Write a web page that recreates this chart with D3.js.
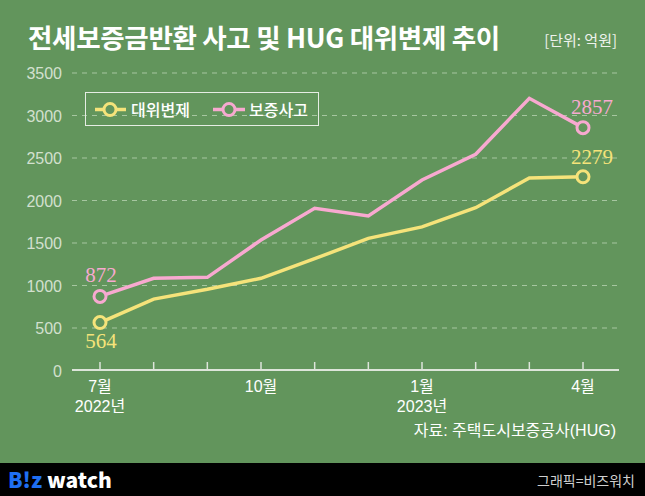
<!DOCTYPE html>
<html><head><meta charset="utf-8">
<script src="https://cdn.jsdelivr.net/npm/d3@7"></script>
<style>
html,body{margin:0;padding:0;background:#62955c;}
svg{display:block;}
</style></head>
<body>
<svg id="c" width="645" height="496"></svg>
<script>
const months = ["2022-07","2022-08","2022-09","2022-10","2022-11","2022-12","2023-01","2023-02","2023-03","2023-04"];
const monthLabels = ["7월","","","10월","","","1월","","","4월"];
const yearLabels = ["2022년","","","","","","2023년","","",""];
const subrogation = [564, 840, 955, 1085, 1315, 1555, 1690, 1915, 2265, 2279]; // 대위변제
const accidents = [872, 1085, 1096, 1535, 1908, 1818, 2241, 2544, 3202, 2857]; // 보증사고
const yTicks = [0, 500, 1000, 1500, 2000, 2500, 3000, 3500];
const seriesNames = ["대위변제", "보증사고"];
const colors = ["#f5e37a", "#f8a9d0"];

const bg = "#62955c";
const svg = d3.select("#c");
svg.append("rect").attr("width",645).attr("height",496).attr("fill",bg);

const x = d3.scalePoint().domain(months).range([100, 583]);
const y = d3.scaleLinear().domain([0, 3500]).range([370.5, 73]);

// title
svg.append("text").attr("x", 28).attr("y", 48)
  .attr("font-family", "'Noto Sans CJK KR'").attr("font-weight", 700)
  .attr("font-size", 26.5).attr("letter-spacing", -0.3).attr("fill", "#fff")
  .text("전세보증금반환 사고 및 HUG 대위변제 추이");
svg.append("text").attr("x", 617).attr("y", 46).attr("text-anchor","end")
  .attr("font-family", "'Noto Sans CJK KR'").attr("font-size", 15)
  .attr("fill", "#eef2ec").text("[단위: 억원]");

// grid + y labels
const g = svg.append("g");
yTicks.forEach(t => {
  if (t > 0) {
    g.append("line").attr("x1", 72).attr("x2", 617)
      .attr("y1", y(t)).attr("y2", y(t))
      .attr("stroke", "#a6c6a0").attr("stroke-width", 1).attr("stroke-dasharray", "5,5");
  }
  g.append("text").attr("x", 62).attr("y", y(t) + 6).attr("text-anchor", "end")
    .attr("font-family", "'Liberation Sans', Arial, sans-serif").attr("font-size", 16)
    .attr("fill", "#d3e0cf").text(t);
});

// x axis
g.append("line").attr("x1", 72).attr("x2", 619).attr("y1", 370).attr("y2", 370)
  .attr("stroke", "#dde5da").attr("stroke-width", 2);
months.forEach((m, i) => {
  g.append("line").attr("x1", x(m)).attr("x2", x(m)).attr("y1", 362).attr("y2", 370)
    .attr("stroke", "#dde5da").attr("stroke-width", 1.5);
  if (monthLabels[i]) g.append("text").attr("x", x(m)).attr("y", 392).attr("text-anchor","middle")
    .attr("font-family", "'Liberation Sans', 'Noto Sans CJK KR', sans-serif").attr("font-size", 16)
    .attr("fill", "#fff").text(monthLabels[i]);
  if (yearLabels[i]) g.append("text").attr("x", x(m)).attr("y", 412).attr("text-anchor","middle")
    .attr("font-family", "'Liberation Sans', 'Noto Sans CJK KR', sans-serif").attr("font-size", 16)
    .attr("fill", "#fff").text(yearLabels[i]);
});

svg.append("text").attr("x", 616).attr("y", 436).attr("text-anchor","end")
  .attr("font-family", "'Liberation Sans', 'Noto Sans CJK KR', sans-serif").attr("font-size", 16)
  .attr("fill", "#fff").text("자료: 주택도시보증공사(HUG)");

// lines
const line = d3.line().x((d, i) => x(months[i])).y(d => y(d));
[subrogation, accidents].forEach((data, k) => {
  svg.append("path").datum(data).attr("d", line).attr("fill", "none")
    .attr("stroke", colors[k]).attr("stroke-width", 3.5).attr("stroke-linejoin", "miter");
  [0, data.length - 1].forEach(i => {
    svg.append("circle").attr("cx", x(months[i])).attr("cy", y(data[i])).attr("r", 6)
      .attr("fill", bg).attr("stroke", colors[k]).attr("stroke-width", 3);
  });
});

// value labels
const lab = (txt, cx, cy, col) => svg.append("text").attr("x", cx).attr("y", cy)
  .attr("text-anchor", "middle").attr("font-family", "'Liberation Serif', serif")
  .attr("font-size", 21).attr("fill", col).text(txt);
lab(accidents[0], x(months[0]) + 1, y(accidents[0]) - 14, colors[1]);
lab(subrogation[0], x(months[0]) + 1, y(subrogation[0]) + 25, colors[0]);
lab(accidents[9], x(months[9]) + 9, y(accidents[9]) - 14, colors[1]);
lab(subrogation[9], x(months[9]) + 9, y(subrogation[9]) - 13, colors[0]);

// legend
const lg = svg.append("g");
lg.append("rect").attr("x", 85.5).attr("y", 92.5).attr("width", 233).attr("height", 33)
  .attr("fill", "none").attr("stroke", "#e6ede4").attr("stroke-width", 1);
const legX = [[95, 126, 110, 131], [213, 245, 229, 249]];
seriesNames.forEach((n, k) => {
  const [a, b, c, t] = legX[k];
  lg.append("line").attr("x1", a).attr("x2", b).attr("y1", 109.5).attr("y2", 109.5)
    .attr("stroke", colors[k]).attr("stroke-width", 3.5);
  lg.append("circle").attr("cx", c).attr("cy", 109.5).attr("r", 6)
    .attr("fill", bg).attr("stroke", colors[k]).attr("stroke-width", 3);
  lg.append("text").attr("x", t).attr("y", 115.5)
    .attr("font-family", "'Noto Sans CJK KR'").attr("font-weight", 500).attr("font-size", 16)
    .attr("fill", "#fff").text(n);
});

// footer
svg.append("rect").attr("x", 0).attr("y", 463).attr("width", 645).attr("height", 33).attr("fill", "#000");
const ft = svg.append("text").attr("x", 8).attr("y", 488)
  .attr("font-family", "'Noto Sans CJK KR', sans-serif").attr("font-weight", 900).attr("font-size", 21);
ft.append("tspan").attr("fill", "#1f6ff2").text("B!z ");
ft.append("tspan").attr("fill", "#fff").text("watch");
svg.append("text").attr("x", 635).attr("y", 486).attr("text-anchor","end")
  .attr("font-family", "'Noto Sans CJK KR'").attr("font-size", 14)
  .attr("fill", "#cfcfcf").text("그래픽=비즈워치");
</script>
</body></html>
